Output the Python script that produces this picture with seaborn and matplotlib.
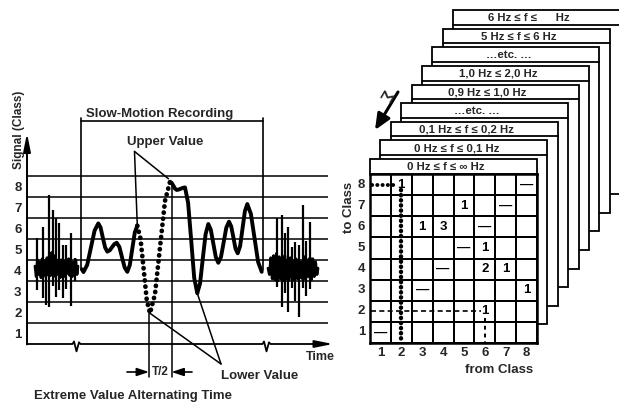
import matplotlib
matplotlib.use("Agg")
import matplotlib.pyplot as plt
from matplotlib.colors import ListedColormap
from matplotlib.patches import Rectangle
import numpy as np
import pandas as pd
import seaborn as sns

sns.set_theme(style="white")
plt.rcParams["font.family"] = ["Liberation Sans", "DejaVu Sans"]
plt.rcParams["font.weight"] = "bold"
plt.rcParams["axes.labelweight"] = "bold"

# ---------------- data ----------------
class_labels = ["1", "2", "3", "4", "5", "6", "7", "8"]

# slow-motion recording: first solid part (time, class)
slow_a_t = [55.0, 56.5, 60.2, 63.9, 67.6, 71.3, 73.6, 75.8, 78.1, 80.3, 82.7, 85.0,
            87.4, 89.7, 92.4, 95.0, 97.7, 100.3, 102.8, 105.3, 107.8, 110.3]
slow_a_c = [3.55, 3.42, 3.76, 4.58, 5.39, 5.73, 5.53, 5.06, 4.59, 4.39, 4.45, 4.60,
            4.75, 4.81, 4.61, 4.12, 3.63, 3.43, 3.75, 4.53, 5.30, 5.62]
# extreme value alternation (dotted)
swing_t = [110.3, 113.5, 116.7, 119.8, 123.0, 128.0, 133.0, 138.0, 143.0]
swing_c = [5.62, 5.01, 3.54, 2.07, 1.46, 2.37, 4.59, 6.80, 7.71]
# slow-motion recording: second solid part
slow_b_t = [143.0, 144.7, 146.4, 148.0, 149.7, 151.8, 153.9, 155.9, 158.0, 161.1, 164.2,
            167.2, 170.3, 173.1, 175.8, 178.6, 181.3, 183.8, 186.3, 188.8, 191.3, 194.0,
            196.7, 199.3, 202.0, 204.2, 206.4, 208.5, 210.7, 213.1, 215.5, 217.9, 220.3,
            223.9, 227.5, 231.1, 234.7]
slow_b_c = [7.71, 7.65, 7.52, 7.38, 7.32, 7.34, 7.38, 7.42, 7.44, 6.71, 4.93,
            3.14, 2.41, 2.89, 4.06, 5.22, 5.70, 5.43, 4.78, 4.13, 3.86, 4.14,
            4.84, 5.53, 5.81, 5.59, 5.06, 4.53, 4.31, 4.65, 5.48, 6.31, 6.65,
            6.18, 5.04, 3.90, 3.43]

# real-time recording (noisy), left and right
blob_left_t = [8, 9.2, 10.4, 11.6, 12.8, 14, 15.2, 16.4, 17.6, 18.8, 20, 21.2, 22.4,
               23.6, 24.8, 26, 27.2, 28.4, 29.6, 30.8, 32, 33.2, 34.4, 35.6, 36.8, 38,
               39.2, 40.4, 41.6, 42.8, 44, 45.2, 46.4, 47.6, 48.8, 50, 51]
blob_left_c = [3.7, 3.2, 4.0, 3.3, 3.9, 3.15, 4.05, 3.35, 3.95, 3.2, 4.1, 3.3, 4.3,
               3.25, 4.35, 3.4, 4.2, 3.2, 4.0, 3.3, 3.9, 3.15, 4.0, 3.3, 3.95, 3.2,
               3.9, 3.35, 4.05, 3.25, 3.95, 3.2, 3.9, 3.3, 4.0, 3.3, 3.7]
spike_left_t = [10.3, 15.7, 19.0, 22.3, 26.3, 29.0, 32.3, 35.7, 39.0, 43.7, 48.0]
spike_left_lo = [2.57, 2.18, 1.85, 1.77, 2.75, 2.25, 2.57, 2.18, 2.60, 1.81, 3.00]
spike_left_hi = [5.03, 5.58, 4.00, 7.08, 6.37, 5.97, 5.75, 4.70, 4.70, 5.26, 4.09]

blob_right_t = [241, 242.4, 243.8, 245.2, 246.6, 248, 249.4, 250.8, 252.2, 253.6, 255,
                256.4, 257.8, 259.2, 260.6, 262, 263.4, 264.8, 266.2, 267.6, 269, 270.4,
                271.8, 273.2, 274.6, 276, 277.4, 278.8, 280.2, 281.6, 283, 284.4, 285.8,
                287.2, 288.6, 290, 291]
blob_right_c = [3.6, 3.3, 4.1, 3.1, 4.2, 3.05, 4.3, 3.0, 4.15, 3.1, 4.1, 3.0, 4.2,
                3.1, 4.0, 3.05, 4.1, 3.2, 3.95, 3.0, 4.05, 3.1, 4.0, 3.15, 3.9, 3.05,
                4.15, 3.1, 4.0, 3.2, 4.1, 3.05, 4.05, 3.2, 3.9, 3.3, 3.6]
spike_right_t = [250.3, 254.7, 258.0, 261.3, 264.7, 268.0, 272.3, 275.7, 279.0, 283.0]
spike_right_lo = [2.71, 1.77, 2.41, 1.53, 2.65, 2.03, 1.29, 2.65, 2.30, 2.60]
spike_right_hi = [5.99, 6.14, 5.26, 5.57, 4.62, 4.86, 4.70, 6.60, 4.90, 5.81]

# time axis with breaks
time_axis_t = [0, 45.5, 47, 49.5, 52, 53.5, 235.5, 237, 239.5, 242, 243.5, 300]
time_axis_c = [0, 0, 0.12, -0.35, 0.08, 0, 0, 0.12, -0.35, 0.08, 0, 0]

# transition matrix (rows: to class 8..1, columns: from class 1..8)
matrix_text = [
    ["", "1", "", "", "", "", "", "\u2014"],
    ["", "", "", "", "1", "", "\u2014", ""],
    ["", "", "1", "3", "", "\u2014", "", ""],
    ["", "", "", "", "\u2014", "1", "", ""],
    ["", "", "", "\u2014", "", "2", "1", ""],
    ["", "", "\u2014", "", "", "", "", "1"],
    ["", "", "", "", "", "1", "", ""],
    ["\u2014", "", "", "", "", "", "", ""],
]
to_class_labels = ["8", "7", "6", "5", "4", "3", "2", "1"]
from_class_labels = ["1", "2", "3", "4", "5", "6", "7", "8"]

band_labels = ["0 Hz \u2264 f \u2264 \u221e Hz", "0 Hz \u2264 f \u2264 0,1 Hz",
               "0,1 Hz \u2264 f \u2264 0,2 Hz", "\u2026etc. \u2026",
               "0,9 Hz \u2264 1,0 Hz", "1,0 Hz \u2264 2,0 Hz", "\u2026etc. \u2026",
               "5 Hz \u2264 f \u2264 6 Hz", "6 Hz \u2264 f \u2264      Hz"]

# ---------------- figure ----------------
W, H = 619, 405
fig = plt.figure(figsize=(W / 100, H / 100), dpi=100, facecolor="white")


def box(l, t, r, b):
    return [l / W, 1 - b / H, (r - l) / W, (b - t) / H]


# overlay for the stacked frequency cards
ov = fig.add_axes([0, 0, 1, 1], zorder=0)
ov.set_xlim(0, W)
ov.set_ylim(H, 0)
ov.axis("off")

n_cards = len(band_labels)
card_w, card_h, head_h = 167, 184, 14.5
for k in range(n_cards - 1, 0, -1):
    l = 370 + 10.4 * k
    t = 159 - 18.6 * k
    z = 30 - 2 * k
    ov.add_patch(Rectangle((l, t), card_w, card_h, facecolor="white",
                           edgecolor="black", lw=1.3, zorder=z))
    ov.plot([l, l + card_w], [t + head_h, t + head_h], color="black", lw=1.3, zorder=z + 0.5)
    ov.text(l + 76, t + head_h / 2 + 0.5, band_labels[k], ha="center", va="center",
            fontsize=8.2, fontweight="bold", zorder=z + 0.5)
# front card header
ov.add_patch(Rectangle((370, 159), card_w, head_h, facecolor="white",
                       edgecolor="black", lw=1.3, zorder=40))
ov.text(370 + 76, 159 + head_h / 2 + 0.5, band_labels[0], ha="center", va="center",
        fontsize=8.2, fontweight="bold", zorder=41)
# summation arrow
ov.annotate("", xy=(375, 130), xytext=(398, 92),
            arrowprops=dict(arrowstyle="-|>,head_length=0.8,head_width=0.35",
                            lw=2.2, color="black", shrinkA=0, shrinkB=0))
ov.text(385, 95, "\u03a3", rotation=-120, fontsize=12, ha="center", va="center",
        fontweight="bold")

# ---------------- left: signal panel ----------------
ax = fig.add_axes(box(27, 114.6, 345, 344), zorder=2)
ax.set_xlim(0, 318)
ax.set_ylim(0, 10.9)
ax.patch.set_alpha(0)
for s in ax.spines.values():
    s.set_visible(False)

ax.hlines(range(1, len(class_labels) + 1), 0, 301, color="black", lw=1.1, zorder=1)
ax.plot(time_axis_t, time_axis_c, color="black", lw=1.3, clip_on=False, zorder=2)
ax.annotate("", xy=(306, 0), xytext=(290, 0), annotation_clip=False,
            arrowprops=dict(arrowstyle="-|>,head_length=0.9,head_width=0.18",
                            lw=1.3, color="black", shrinkA=0, shrinkB=0))
ax.annotate("", xy=(0, 10.02), xytext=(0, -0.02), annotation_clip=False,
            arrowprops=dict(arrowstyle="-|>,head_length=0.9,head_width=0.18",
                            lw=1.4, color="black", shrinkA=0, shrinkB=0))

# noisy real-time segments
sns.lineplot(x=blob_left_t, y=blob_left_c, ax=ax, color="black", lw=2.0,
             sort=False, estimator=None, zorder=3)
ax.vlines(spike_left_t, spike_left_lo, spike_left_hi, color="black", lw=1.6, zorder=3)
sns.lineplot(x=blob_right_t, y=blob_right_c, ax=ax, color="black", lw=2.0,
             sort=False, estimator=None, zorder=3)
ax.vlines(spike_right_t, spike_right_lo, spike_right_hi, color="black", lw=1.6, zorder=3)

# slow-motion signal
sns.lineplot(x=slow_a_t, y=slow_a_c, ax=ax, color="black", lw=2.8,
             sort=False, estimator=None, zorder=4)
sns.lineplot(x=swing_t, y=swing_c, ax=ax, color="black", lw=3.4,
             sort=False, estimator=None, zorder=4)
dot_line = ax.lines[-1]
dot_line.set_linestyle((0, (0.05, 1.25)))
dot_line.set_dash_capstyle("round")
sns.lineplot(x=slow_b_t, y=slow_b_c, ax=ax, color="black", lw=2.8,
             sort=False, estimator=None, zorder=4)

# slow-motion bracket
t0, t1 = slow_a_t[0] - 1, slow_b_t[-1] + 1.3
ax.plot([t0, t0], [3.5, 10.75], color="black", lw=1.2)
ax.plot([t1, t1], [3.5, 10.75], color="black", lw=1.2)
ax.plot([t0, t1], [10.6, 10.6], color="black", lw=1.2)
ax.text(t0 + 5, 10.62, "Slow-Motion Recording", ha="left", va="bottom",
        fontsize=9.5, fontweight="bold")

# upper value pointers
ax.text(138, 9.6, "Upper Value", ha="center", va="center", fontsize=9.5, fontweight="bold")
ax.plot([107.5, 110.3], [9.15, 5.62], color="black", lw=1.1)
ax.plot([107.5, 141.5], [9.15, 7.85], color="black", lw=1.1)

# lower value pointers
ax.text(233, -1.5, "Lower Value", ha="center", va="center", fontsize=9.5, fontweight="bold")
ax.plot([194, 123.0], [-0.95, 1.46], color="black", lw=1.1, clip_on=False)
ax.plot([194, 170.3], [-0.95, 2.41], color="black", lw=1.1, clip_on=False)

# T/2 marker
ax.plot([122, 122], [1.46, -1.55], color="black", lw=1.1, clip_on=False)
ax.plot([144.5, 144.5], [7.71, -1.55], color="black", lw=1.1, clip_on=False)
ax.annotate("", xy=(122, -1.33), xytext=(100, -1.33), annotation_clip=False,
            arrowprops=dict(arrowstyle="-|>,head_length=0.6,head_width=0.2",
                            lw=1.2, color="black", shrinkA=0, shrinkB=0))
ax.annotate("", xy=(144.5, -1.33), xytext=(165, -1.33), annotation_clip=False,
            arrowprops=dict(arrowstyle="-|>,head_length=0.6,head_width=0.2",
                            lw=1.2, color="black", shrinkA=0, shrinkB=0))
ax.text(133.3, -1.33, "T/2", ha="center", va="center", fontsize=8.5, fontweight="bold")

ax.text(308, -0.62, "Time", ha="right", va="center", fontsize=9, fontweight="bold")
ax.text(106, -2.48, "Extreme Value Alternating Time", ha="center", va="center",
        fontsize=9.5, fontweight="bold")

ax.set_xticks([])
ax.set_yticks([i + 0.5 for i in range(len(class_labels))])
ax.set_yticklabels(class_labels, fontsize=9.5, fontweight="bold")
ax.tick_params(axis="y", length=0, pad=4)
ax.set_ylabel("Signal (Class)", fontsize=8.5, fontweight="bold")
ax.yaxis.set_label_coords(-0.006, 0.935)

# ---------------- right: transition matrix ----------------
hm = fig.add_axes(box(370, 174, 537, 343), zorder=3)
grid_df = pd.DataFrame(np.zeros((8, 8)), index=to_class_labels, columns=from_class_labels)
sns.heatmap(grid_df, ax=hm, cmap=ListedColormap(["white"]), cbar=False,
            linewidths=1.1, linecolor="black", annot=np.array(matrix_text), fmt="",
            annot_kws=dict(fontsize=9.5, fontweight="bold", color="black"),
            xticklabels=from_class_labels, yticklabels=to_class_labels)
for s in hm.spines.values():
    s.set_visible(True)
    s.set_linewidth(1.8)
    s.set_color("black")
hm.tick_params(axis="both", length=0, labelsize=9.5)
hm.tick_params(axis="x", pad=3)
hm.tick_params(axis="y", pad=3.5)
plt.setp(hm.get_yticklabels(), rotation=0, fontweight="bold")
plt.setp(hm.get_xticklabels(), rotation=0, fontweight="bold")
hm.set_xlabel("from Class", fontsize=9.5, fontweight="bold")
hm.xaxis.set_label_coords(0.772, -0.124)
hm.set_ylabel("to Class", fontsize=9.5, fontweight="bold")
hm.yaxis.set_label_coords(-0.088, 0.80)

# transitions traced in the matrix
hm.plot([0.08, 1.28], [0.5, 0.5], color="black", lw=2.8,
        ls=(0, (0.05, 1.3)), dash_capstyle="round")
hm.plot([1.5, 1.5], [0.78, 7.95], color="black", lw=3.2,
        ls=(0, (0.05, 1.1)), dash_capstyle="round")
hm.plot([0.05, 5.33], [6.5, 6.5], color="black", lw=1.2, ls=(0, (3, 2)))
hm.plot([5.5, 5.5], [6.8, 7.95], color="black", lw=1.4, ls=(0, (2, 2)))

fig.savefig("out.png", dpi=100, facecolor="white")
